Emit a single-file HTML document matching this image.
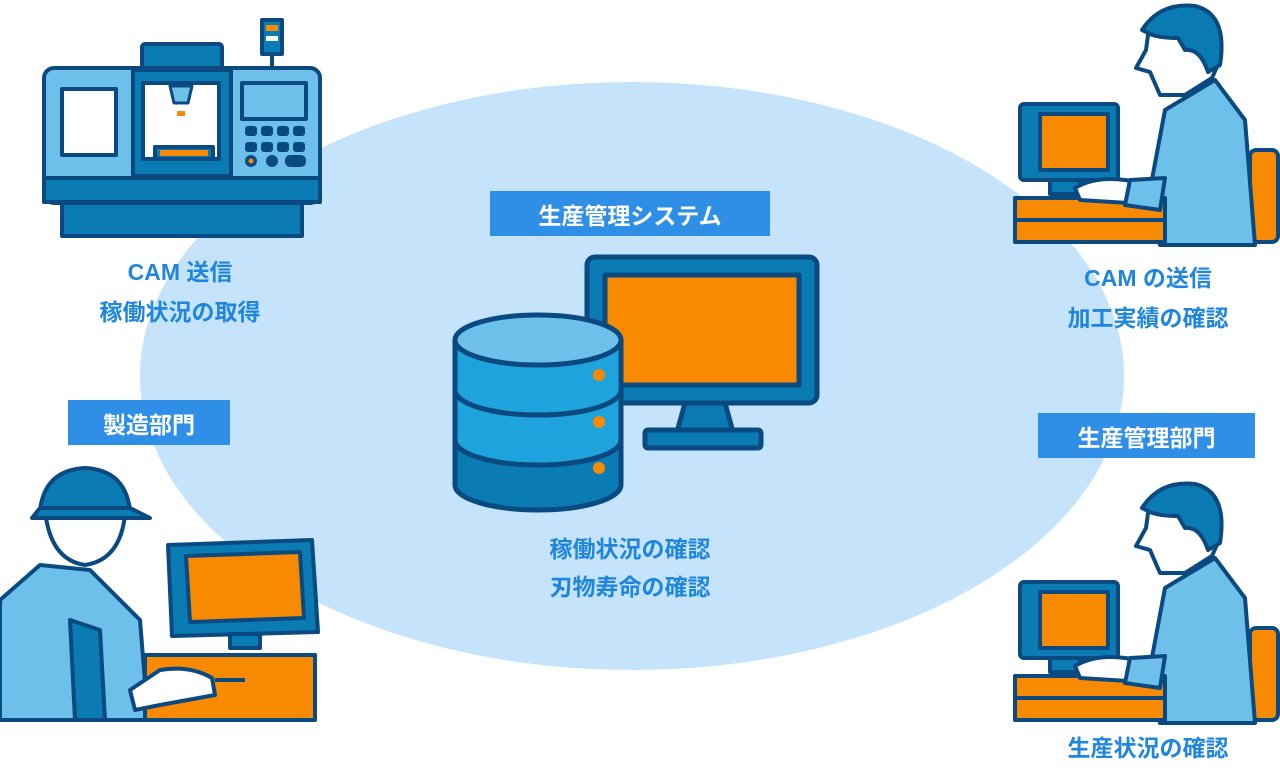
<!DOCTYPE html>
<html><head><meta charset="utf-8"><style>
body{margin:0;width:1280px;height:763px;background:#fff;overflow:hidden;position:relative;font-family:"Liberation Sans","Noto Sans CJK JP",sans-serif}
.lb{position:absolute;background:#2f8fe6;color:#fff;font-weight:700;font-size:23px;display:flex;align-items:center;justify-content:center}
.tx{position:absolute;color:#1f86e0;font-weight:700;font-size:23px;text-align:center;line-height:40px}
svg{position:absolute;left:0;top:0}
</style></head><body>
<svg width="1280" height="763" viewBox="0 0 1280 763">
<defs>
<g id="man" stroke="#0b4a80" stroke-width="4" stroke-linejoin="round">
 <rect x="1250" y="150" width="28" height="92" rx="6" fill="#f78a00"/>
 <path d="M1165 110 L1215 80 L1245 120 L1255 245 L1160 245 L1150 190 Z" fill="#6cc0ea"/>
 <path d="M1148 35 Q1160 5 1195 8 Q1225 15 1220 60 L1212 78 L1185 95 L1160 95 L1150 72 L1136 68 L1146 50 Z" fill="#fff"/>
 <path d="M1142 30 Q1160 2 1195 6 Q1228 14 1220 65 L1208 72 Q1200 48 1185 50 L1178 38 Q1160 38 1150 34 Z" fill="#0a7bb3"/>
 <rect x="1020" y="104" width="98" height="76" rx="4" fill="#0a7bb3"/>
 <rect x="1040" y="114" width="68" height="56" fill="#f78a00"/>
 <rect x="1050" y="180" width="30" height="14" fill="#0a7bb3"/>
 <rect x="1015" y="198" width="150" height="44" fill="#f78a00"/>
 <line x1="1015" y1="220" x2="1165" y2="220"/>
 <path d="M1075 188 Q1095 176 1125 180 L1160 185 L1160 205 L1080 200 Z" fill="#fff"/>
 <path d="M1130 180 L1165 178 L1160 210 L1125 205 Z" fill="#6cc0ea"/>
</g>
</defs>
<ellipse cx="632" cy="376" rx="492" ry="294" fill="#c5e3fb"/>
<g stroke="#0b4a80" stroke-width="4" stroke-linejoin="round">
 <rect x="262" y="20" width="20" height="34" fill="#0a7bb3"/>
 <rect x="266" y="25" width="12" height="6" fill="#f78a00" stroke="none"/>
 <rect x="266" y="36" width="12" height="5" fill="#fff" stroke="none"/>
 <line x1="272" y1="54" x2="272" y2="68"/>
 <rect x="142" y="44" width="80" height="26" rx="3" fill="#0a7bb3"/>
 <rect x="62" y="200" width="240" height="36" fill="#0a7bb3"/>
 <rect x="44" y="68" width="276" height="135" rx="10" fill="#6cc0ea"/>
 <rect x="44" y="178" width="276" height="24" fill="#0a7bb3"/>
 <rect x="133" y="70" width="98" height="106" fill="#0a7bb3"/>
 <rect x="143" y="83" width="76" height="76" fill="#fff"/>
 <rect x="155" y="147" width="58" height="12" fill="#0a7bb3"/>
 <rect x="160" y="150" width="48" height="6" fill="#f78a00" stroke="none"/>
 <path d="M170 86 L192 86 L188 103 L174 103 Z" fill="#6cc0ea" stroke-width="3"/>
 <rect x="177" y="111" width="8" height="5" fill="#f78a00" stroke="none"/>
 <rect x="62" y="89" width="54" height="66" fill="#fff"/>
 <rect x="242" y="83" width="64" height="36" fill="#6cc0ea"/>
 <g fill="#0b4a80" stroke="none">
  <rect x="245" y="126" width="12" height="10" rx="3"/><rect x="261" y="126" width="12" height="10" rx="3"/><rect x="277" y="126" width="12" height="10" rx="3"/><rect x="293" y="126" width="12" height="10" rx="3"/>
  <rect x="245" y="142" width="12" height="10" rx="3"/><rect x="261" y="142" width="12" height="10" rx="3"/><rect x="277" y="142" width="12" height="10" rx="3"/><rect x="293" y="142" width="12" height="10" rx="3"/>
  <circle cx="251" cy="161" r="6"/><circle cx="272" cy="161" r="6"/><rect x="285" y="155" width="21" height="12" rx="5"/>
 </g>
 <circle cx="251" cy="161" r="2.5" fill="#f78a00" stroke="none"/>
</g>
<g stroke="#0b4a80" stroke-width="5" stroke-linejoin="round">
 <rect x="587" y="257" width="230" height="146" rx="8" fill="#0a7bb3"/>
 <rect x="605" y="275" width="194" height="110" fill="#f78a00"/>
 <path d="M685 403 L725 403 L733 432 L677 432 Z" fill="#0a7bb3"/>
 <rect x="645" y="430" width="116" height="18" rx="3" fill="#0a7bb3"/>
 <path d="M455 340 L455 485 A83 25 0 0 0 621 485 L621 340 Z" fill="#0a7bb3"/>
 <path d="M455 340 L455 440 A83 25 0 0 0 621 440 L621 340 Z" fill="#1fa3dc"/>
 <path d="M455 340 L455 390 A83 25 0 0 0 621 390 L621 340 Z" fill="#1fa3dc"/>
 <ellipse cx="538" cy="340" rx="83" ry="25" fill="#6cc0ea"/>
 <circle cx="599" cy="375" r="6" fill="#f78a00" stroke="none"/>
 <circle cx="599" cy="422" r="6" fill="#f78a00" stroke="none"/>
 <circle cx="599" cy="468" r="6" fill="#f78a00" stroke="none"/>
</g>
<use href="#man"/>
<use href="#man" transform="translate(0,478)"/>
<g stroke="#0b4a80" stroke-width="4" stroke-linejoin="round">
 <path d="M0 600 L40 565 L90 570 L140 620 L148 720 L0 720 Z" fill="#6cc0ea"/>
 <path d="M70 620 L100 630 L105 720 L75 720 Z" fill="#0a7bb3"/>
 <path d="M45 510 Q50 560 85 565 Q120 560 125 515 Z" fill="#fff"/>
 <path d="M40 510 Q45 470 85 468 Q125 470 130 510 Z" fill="#0a7bb3"/>
 <path d="M32 518 L150 518 L130 508 L40 508 Z" fill="#0a7bb3"/>
 <path d="M168 545 L312 540 L318 632 L172 636 Z" fill="#0a7bb3"/>
 <path d="M186 556 L300 552 L304 618 L190 622 Z" fill="#f78a00"/>
 <rect x="230" y="634" width="30" height="14" fill="#0a7bb3"/>
 <rect x="145" y="655" width="170" height="65" fill="#f78a00"/>
 <path d="M130 690 L160 670 Q190 665 212 678 L215 695 L160 705 L135 710 Z" fill="#fff"/>
 <line x1="215" y1="680" x2="245" y2="680"/>
</g>
</svg>
<div class="lb" style="left:490px;top:191px;width:280px;height:45px">生産管理システム</div>
<div class="lb" style="left:68px;top:400px;width:162px;height:45px">製造部門</div>
<div class="lb" style="left:1038px;top:413px;width:217px;height:45px">生産管理部門</div>
<div class="tx" style="left:50px;top:252px;width:260px">CAM 送信<br>稼働状況の取得</div>
<div class="tx" style="left:1020px;top:258px;width:256px">CAM の送信<br>加工実績の確認</div>
<div class="tx" style="left:500px;top:530px;width:260px;line-height:38px">稼働状況の確認<br>刃物寿命の確認</div>
<div class="tx" style="left:1020px;top:728px;width:256px">生産状況の確認</div>
</body></html>
